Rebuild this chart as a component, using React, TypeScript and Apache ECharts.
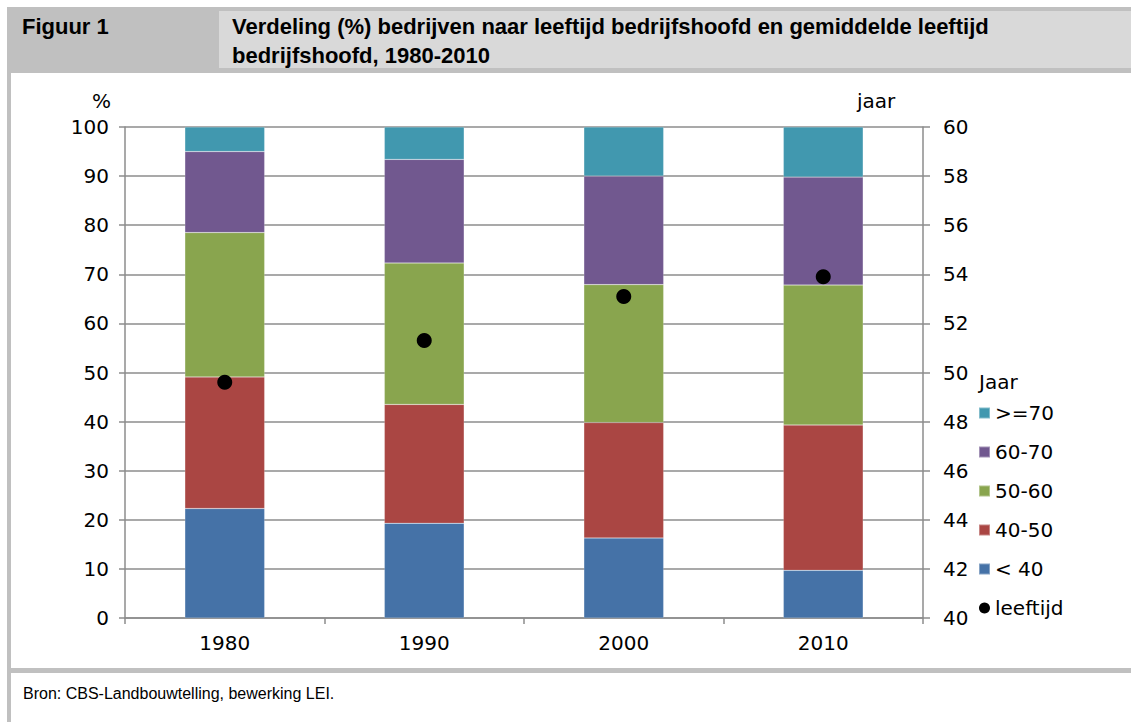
import React, { useEffect, useRef } from "react";
import * as echarts from "echarts";

const categories = ["1980", "1990", "2000", "2010"];
const under40 = [22.3, 19.3, 16.3, 9.7];
const age40to50 = [26.8, 24.2, 23.5, 29.6];
const age50to60 = [29.4, 28.8, 28.1, 28.5];
const age60to70 = [16.5, 21.1, 22.1, 22.0];
const age70plus = [5.0, 6.6, 10.0, 10.2];
const meanAge = [49.6, 51.3, 53.1, 53.9];

const leftTicks = { min: 0, max: 100, interval: 10 };
const rightTicks = { min: 40, max: 60, interval: 2 };

const FONT = "'DejaVu Sans', Verdana, sans-serif";
const NARROW = "'Liberation Sans Narrow', 'Liberation Sans', Arial, sans-serif";
const GRID_COLOR = "#8c8c8c";
const FS = 20;

export default function App() {
  const ref = useRef<HTMLDivElement>(null);
  useEffect(() => {
    if (!ref.current) return;
    const chart = echarts.init(ref.current, null, { renderer: "svg" });
    const barBase = {
      type: "bar",
      stack: "total",
      barWidth: "40%",
      yAxisIndex: 0,
      itemStyle: { borderColor: "rgba(255,255,255,0.35)", borderWidth: 0.5 },
    };
    chart.setOption({
      animation: false,
      backgroundColor: "#ffffff",
      grid: { left: 125, right: 208, top: 127, bottom: 104, containLabel: false },
      xAxis: {
        type: "category",
        data: categories,
        boundaryGap: true,
        axisLine: { lineStyle: { color: GRID_COLOR, width: 1.5 } },
        axisTick: { show: true, length: 6, inside: false, lineStyle: { color: GRID_COLOR, width: 1.5 } },
        axisLabel: { fontFamily: FONT, fontSize: FS, color: "#000", margin: 15 },
      },
      yAxis: [
        {
          type: "value",
          min: leftTicks.min,
          max: leftTicks.max,
          interval: leftTicks.interval,
          axisLine: { show: true, lineStyle: { color: GRID_COLOR, width: 1.5 } },
          axisTick: { show: true, length: 6, lineStyle: { color: GRID_COLOR, width: 1.5 } },
          splitLine: { show: true, lineStyle: { color: GRID_COLOR, width: 1.5 } },
          axisLabel: { fontFamily: FONT, fontSize: FS, color: "#000", margin: 16 },
        },
        {
          type: "value",
          min: rightTicks.min,
          max: rightTicks.max,
          interval: rightTicks.interval,
          position: "right",
          axisLine: { show: true, lineStyle: { color: GRID_COLOR, width: 1.5 } },
          axisTick: { show: true, length: 7, lineStyle: { color: GRID_COLOR, width: 1.5 } },
          splitLine: { show: false },
          axisLabel: { fontFamily: FONT, fontSize: FS, color: "#000", margin: 20 },
        },
      ],
      legend: {
        orient: "vertical",
        left: 973,
        top: 397,
        itemWidth: 11,
        itemHeight: 11,
        itemGap: 17,
        textStyle: { fontFamily: FONT, fontSize: FS, color: "#000", lineHeight: 22 },
        data: [
          { name: ">=70", icon: "rect" },
          { name: "60-70", icon: "rect" },
          { name: "50-60", icon: "rect" },
          { name: "40-50", icon: "rect" },
          { name: "< 40", icon: "rect" },
          { name: "leeftijd", icon: "circle", itemStyle: { color: "#000", opacity: 1 } },
        ],
      },
      series: [
        { ...barBase, name: "< 40", data: under40, itemStyle: { ...barBase.itemStyle, color: "#4572a7" } },
        { ...barBase, name: "40-50", data: age40to50, itemStyle: { ...barBase.itemStyle, color: "#aa4643" } },
        { ...barBase, name: "50-60", data: age50to60, itemStyle: { ...barBase.itemStyle, color: "#89a54e" } },
        { ...barBase, name: "60-70", data: age60to70, itemStyle: { ...barBase.itemStyle, color: "#71588f" } },
        { ...barBase, name: ">=70", data: age70plus, itemStyle: { ...barBase.itemStyle, color: "#4198af" } },
        {
          type: "scatter",
          name: "leeftijd",
          yAxisIndex: 1,
          data: meanAge,
          symbol: "circle",
          symbolSize: 15,
          itemStyle: { color: "#000", opacity: 1 },
          z: 10,
        },
      ],
      graphic: [
        { type: "rect", shape: { x: 7, y: 7, width: 1124, height: 66 }, style: { fill: "#c0c0c0" }, silent: true },
        { type: "rect", shape: { x: 219, y: 11, width: 912, height: 57 }, style: { fill: "#d9d9d9" }, silent: true },
        { type: "rect", shape: { x: 7, y: 73, width: 4, height: 649 }, style: { fill: "#c0c0c0" }, silent: true },
        { type: "rect", shape: { x: 7, y: 668, width: 1124, height: 5 }, style: { fill: "#c0c0c0" }, silent: true },
        {
          type: "text",
          left: 22,
          top: 15,
          style: { text: "Figuur 1", fontFamily: NARROW, fontWeight: "bold", fontSize: 22, fill: "#000" },
        },
        {
          type: "text",
          left: 232,
          top: 12,
          style: {
            text: "Verdeling (%) bedrijven naar leeftijd bedrijfshoofd en gemiddelde leeftijd\nbedrijfshoofd, 1980-2010",
            fontFamily: NARROW,
            fontWeight: "bold",
            fontSize: 22,
            lineHeight: 29,
            fill: "#000",
          },
        },
        {
          type: "text",
          left: 92,
          top: 91,
          style: { text: "%", fontFamily: FONT, fontSize: FS, fill: "#000" },
        },
        {
          type: "text",
          left: 857,
          top: 91,
          style: { text: "jaar", fontFamily: FONT, fontSize: FS, fill: "#000" },
        },
        {
          type: "text",
          left: 979,
          top: 372,
          style: { text: "Jaar", fontFamily: FONT, fontSize: FS, fill: "#000" },
        },
        {
          type: "text",
          left: 23,
          top: 685,
          style: { text: "Bron: CBS-Landbouwtelling, bewerking LEI.", fontFamily: NARROW, fontSize: 16, fill: "#000" },
        },
      ],
    });
    return () => chart.dispose();
  }, []);
  return (
    <div
      ref={ref}
      style={{ position: "fixed", left: 0, top: 0, width: 1131, height: 722 }}
    />
  );
}
